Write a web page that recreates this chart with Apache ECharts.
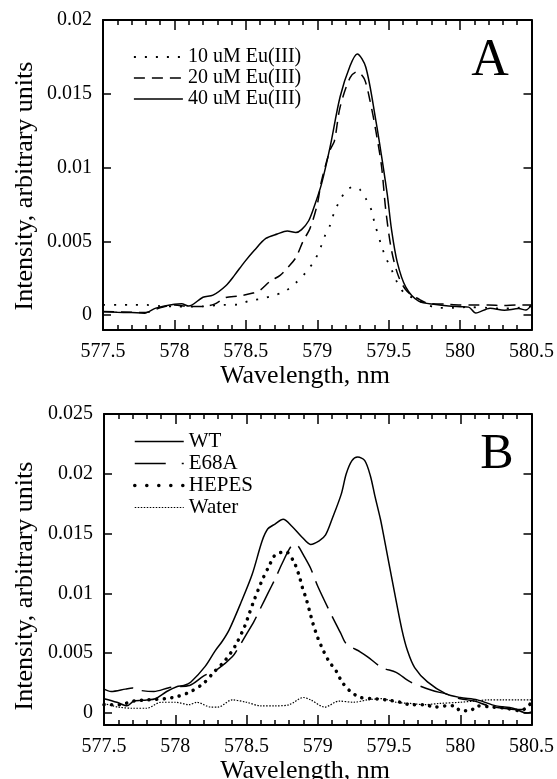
<!DOCTYPE html>
<html>
<head>
<meta charset="utf-8">
<script src="https://cdn.jsdelivr.net/npm/echarts@6/dist/echarts.min.js"></script>
<style>
  html, body { margin: 0; padding: 0; background: #fff; }
  #chart { width: 557px; height: 779px; }
</style>
</head>
<body>
<div id="chart"></div>
<script>
// panel A: Eu(III) concentration series, [wavelength nm, intensity]
const eu10 = [[577.5,0.0007],[577.6,0.0007],[577.7,0.0007],[577.8,0.0007],[577.9,0.00062],[578.0,0.0006],[578.1,0.00058],[578.2,0.0006],[578.34,0.0007],[578.45,0.00072],[578.53,0.001],[578.6,0.0011],[578.68,0.0013],[578.77,0.0016],[578.85,0.0022],[578.92,0.0029],[578.98,0.0037],[579.02,0.0045],[579.05,0.0053],[579.09,0.0061],[579.12,0.007],[579.16,0.0078],[579.2,0.0084],[579.25,0.0087],[579.27,0.00868],[579.3,0.0085],[579.34,0.0079],[579.38,0.0071],[579.4,0.0063],[579.45,0.0047],[579.48,0.0039],[579.52,0.0031],[579.55,0.0024],[579.61,0.0015],[579.7,0.00106],[579.77,0.0007],[579.85,0.0005],[579.95,0.0005],[580.05,0.00055],[580.2,0.0005],[580.3,0.00045],[580.4,0.0005],[580.5,0.0006]];
const eu20 = [[577.5,0.00025],[577.7,0.0002],[577.8,0.00018],[577.9,0.0005],[578.0,0.0007],[578.1,0.0006],[578.2,0.0006],[578.28,0.00075],[578.36,0.0012],[578.45,0.0013],[578.55,0.0015],[578.6,0.0017],[578.67,0.0023],[578.74,0.0027],[578.8,0.0033],[578.85,0.0039],[578.9,0.005],[578.95,0.0059],[579.0,0.0075],[579.03,0.0091],[579.09,0.0112],[579.12,0.0118],[579.16,0.0141],[579.23,0.0161],[579.28,0.0165],[579.33,0.016],[579.37,0.0145],[579.41,0.0125],[579.45,0.0101],[579.48,0.0071],[579.52,0.0044],[579.57,0.0026],[579.63,0.0016],[579.71,0.0011],[579.78,0.0008],[579.9,0.00075],[580.0,0.0007],[580.1,0.0007],[580.2,0.0007],[580.3,0.00065],[580.4,0.0007],[580.5,0.0007]];
const eu40 = [[577.5,0.00023],[577.6,0.0002],[577.7,0.00018],[577.79,0.00014],[577.87,0.00048],[578.0,0.00075],[578.05,0.00078],[578.1,0.00062],[578.2,0.00122],[578.27,0.00136],[578.36,0.002],[578.42,0.0027],[578.49,0.0036],[578.56,0.0044],[578.64,0.0052],[578.72,0.0055],[578.79,0.0057],[578.85,0.0056],[578.89,0.0058],[578.94,0.0064],[578.98,0.0074],[579.03,0.0089],[579.09,0.0114],[579.16,0.0148],[579.23,0.0169],[579.28,0.0177],[579.34,0.0168],[579.41,0.0132],[579.45,0.0108],[579.49,0.0082],[579.52,0.0058],[579.56,0.0036],[579.62,0.0019],[579.71,0.00095],[579.83,0.00072],[579.92,0.00062],[580.0,0.00058],[580.06,0.00055],[580.11,0.00015],[580.21,0.00048],[580.31,0.00034],[580.41,0.00045],[580.46,0.00035],[580.5,0.0007]];

// panel B
const wt = [[577.5,0.0012],[577.59,0.0009],[577.66,0.0006],[577.71,0.001],[577.8,0.0011],[577.86,0.0012],[577.94,0.0018],[578.01,0.0022],[578.06,0.0023],[578.11,0.0026],[578.21,0.0039],[578.28,0.0052],[578.33,0.006],[578.38,0.007],[578.46,0.0092],[578.54,0.0116],[578.61,0.0144],[578.65,0.0154],[578.7,0.0158],[578.757,0.0162],[578.82,0.0156],[578.89,0.0147],[578.95,0.0141],[579.01,0.0144],[579.055,0.0149],[579.1,0.0162],[579.165,0.0183],[579.2,0.02],[579.24,0.0211],[579.28,0.0214],[579.33,0.0211],[579.37,0.0198],[579.4,0.0182],[579.44,0.0162],[579.46,0.015],[579.54,0.01],[579.59,0.007],[579.63,0.0052],[579.68,0.0038],[579.77,0.0026],[579.9,0.0016],[580.0,0.0013],[580.12,0.0011],[580.25,0.0006],[580.37,0.0004],[580.47,0.0],[580.5,0.0001]];
const e68a = [[577.5,0.002],[577.55,0.0018],[577.65,0.002],[577.7,0.0021],[577.75,0.0019],[577.85,0.0018],[577.95,0.0021],[578.0,0.0022],[578.1,0.0023],[578.2,0.0031],[578.3,0.0037],[578.4,0.0047],[578.45,0.0056],[578.5,0.0066],[578.55,0.0076],[578.6,0.0088],[578.65,0.01],[578.7,0.0112],[578.75,0.0125],[578.8,0.0137],[578.83,0.0141],[578.86,0.014],[578.9,0.0132],[578.95,0.0121],[579.0,0.0106],[579.1,0.0081],[579.16,0.0067],[579.2,0.0058],[579.3,0.0051],[579.35,0.0047],[579.45,0.0038],[579.55,0.0034],[579.65,0.0026],[579.8,0.0019],[579.9,0.0016],[580.0,0.0012],[580.1,0.001],[580.2,0.0006],[580.3,0.0004],[580.4,0.0003],[580.5,0.0003]];
const hepes = [[577.5,0.0007],[577.61,0.0007],[577.71,0.001],[577.81,0.0011],[577.93,0.0012],[578.02,0.0014],[578.11,0.0018],[578.2,0.0025],[578.27,0.0034],[578.35,0.0044],[578.42,0.0056],[578.489,0.0073],[578.519,0.0083],[578.549,0.0093],[578.582,0.0103],[578.617,0.0113],[578.659,0.0123],[578.7,0.0132],[578.775,0.0135],[578.834,0.0126],[578.869,0.0115],[578.892,0.0105],[578.92,0.0095],[578.943,0.0085],[578.966,0.0075],[579.0,0.0063],[579.04,0.0052],[579.08,0.0043],[579.13,0.0035],[579.17,0.0026],[579.23,0.0018],[579.3,0.0013],[579.4,0.0012],[579.48,0.0011],[579.58,0.0009],[579.65,0.0007],[579.75,0.0007],[579.82,0.0005],[579.9,0.0006],[579.96,0.0006],[580.0,0.0002],[580.07,0.0002],[580.12,0.0006],[580.22,0.0005],[580.32,0.0004],[580.42,0.0002],[580.47,0.0005],[580.5,0.0009]];
const water = [[577.5,0.0008],[577.6,0.0005],[577.7,0.0004],[577.8,0.0004],[577.9,0.0009],[578.0,0.0009],[578.1,0.0007],[578.15,0.0009],[578.25,0.0005],[578.3,0.0005],[578.4,0.0011],[578.5,0.0009],[578.6,0.0006],[578.7,0.0006],[578.8,0.0007],[578.9,0.0013],[578.95,0.0011],[579.05,0.0005],[579.15,0.001],[579.25,0.0009],[579.35,0.0011],[579.45,0.0012],[579.55,0.0009],[579.65,0.0008],[579.75,0.0007],[579.85,0.0008],[580.0,0.0009],[580.1,0.001],[580.2,0.0011],[580.3,0.0011],[580.4,0.0011],[580.5,0.0011]];

const ticksA = [0, 0.005, 0.01, 0.015, 0.02];
const ticksB = [0, 0.005, 0.01, 0.015, 0.02, 0.025];
const namesA = ['10 uM Eu(III)', '20 uM Eu(III)', '40 uM Eu(III)'];
const namesB = ['WT', 'E68A', 'HEPES', 'Water'];

const serif = '"Liberation Serif", "Times New Roman", serif';
const chart = echarts.init(document.getElementById('chart'));

function xAx(grid, top) {
  return {
    type: 'value', gridIndex: grid, position: top ? 'top' : 'bottom',
    min: 577.5, max: 580.5, interval: 0.5,
    axisLine: { show: true, onZero: false, lineStyle: { color: '#000', width: 2 } },
    axisTick: { show: true, inside: true, length: 10, lineStyle: { color: '#000', width: 1.5 } },
    minorTick: { show: true, splitNumber: 5, length: 5, lineStyle: { color: '#000', width: 1.5 } },
    splitLine: { show: false },
    axisLabel: { show: !top, margin: 12, color: '#000', fontSize: 20, fontFamily: serif }
  };
}
function yAx(grid, max, ticks, right) {
  return {
    type: 'value', gridIndex: grid, position: right ? 'right' : 'left',
    min: -0.001, max: max,
    axisLine: { show: true, onZero: false, lineStyle: { color: '#000', width: 2 } },
    axisTick: { show: true, inside: true, length: 8, customValues: ticks, lineStyle: { color: '#000', width: 1.5 } },
    splitLine: { show: false },
    axisLabel: { show: !right, customValues: ticks, margin: 11, color: '#000', fontSize: 20, fontFamily: serif,
      formatter: v => String(v) }
  };
}
function line(name, data, ax, width, dash, cap) {
  return {
    name: name, type: 'line', data: data, xAxisIndex: ax, yAxisIndex: ax,
    symbol: 'none', showSymbol: false, smooth: 0.3,
    lineStyle: { color: '#000', width: width, type: dash, cap: cap || 'butt' },
    itemStyle: { color: '#000' }
  };
}
function txt(text, x, y, size, rot) {
  return { type: 'text', x: x, y: y, rotation: rot || 0,
    style: { text: text, fill: '#000', font: size + 'px ' + serif, align: 'center', verticalAlign: 'middle' } };
}
function legendAt(items, top, size) {
  return { data: items, orient: 'vertical', left: 133, top: top, padding: 0,
    itemWidth: 49, itemHeight: 14, itemGap: 1, itemStyle: { opacity: 0 },
    lineStyle: { width: 'inherit' },
    textStyle: { color: '#000', fontSize: size, fontFamily: serif }, selectedMode: false };
}

chart.setOption({
  animation: false,
  backgroundColor: '#fff',
  grid: [
    { left: 103, top: 20, width: 430, height: 310 },
    { left: 104, top: 414, width: 429, height: 311 }
  ],
  xAxis: [xAx(0, false), xAx(1, false), xAx(0, true), xAx(1, true)],
  yAxis: [yAx(0, 0.02, ticksA, false), yAx(1, 0.025, ticksB, false), yAx(0, 0.02, ticksA, true), yAx(1, 0.025, ticksB, true)],
  legend: [
    legendAt(namesA.map(n => ({ name: n })), 47, 20),
    legendAt([
      { name: namesB[0] },
      { name: namesB[1], lineStyle: { type: [31, 16] } },
      { name: namesB[2], lineStyle: { width: 3.5, type: [0.1, 11.9], cap: 'round' } },
      { name: namesB[3] }
    ], 431, 21)
  ],
  graphic: [
    txt('Intensity, arbitrary units', 25, 186, 26, Math.PI / 2),
    txt('Wavelength, nm', 305, 376, 26),
    txt('Intensity, arbitrary units', 25, 586, 26, Math.PI / 2),
    txt('Wavelength, nm', 305, 771, 26),
    txt('A', 490, 61, 52),
    txt('B', 497, 455, 50)
  ],
  series: [
    line(namesA[0], eu10, 0, 1.8, [2, 9]),
    line(namesA[1], eu20, 0, 1.5, [11, 7]),
    line(namesA[2], eu40, 0, 1.5, 'solid'),
    line(namesB[0], wt, 1, 1.5, 'solid'),
    line(namesB[1], e68a, 1, 1.5, [30, 9]),
    line(namesB[2], hepes, 1, 3.5, [0.1, 7.5], 'round'),
    line(namesB[3], water, 1, 1.2, [1.5, 1.5])
  ]
});
</script>
</body>
</html>
